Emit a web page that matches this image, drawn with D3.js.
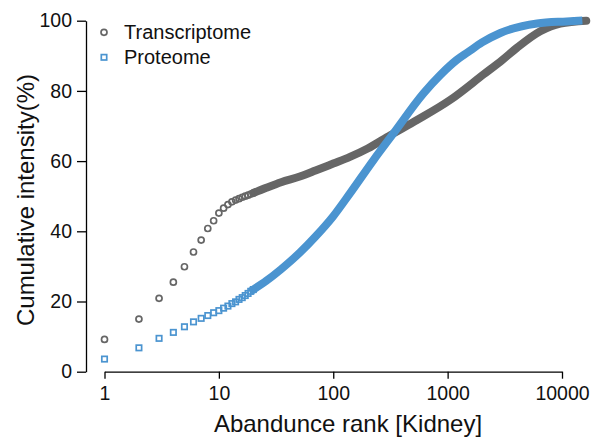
<!DOCTYPE html>
<html>
<head>
<meta charset="utf-8">
<script src="https://cdn.jsdelivr.net/npm/d3@7"></script>
<style>
  html, body { margin: 0; padding: 0; background: #fff; }
  svg { display: block; font-family: "Liberation Sans", Arial, Helvetica, sans-serif; }
</style>
</head>
<body>
<svg id="chart" width="594" height="438"></svg>
<script>
// Cumulative intensity (%) by abundance rank, kidney.
// Top-ranked entries are shown as individual markers.
const transcriptomeTopRanks = [1, 2, 3, 4, 5, 6, 7, 8, 9, 10, 11, 12, 13, 14, 15, 16, 17, 18, 19, 20];
const transcriptomeTopValues = [9.2, 15.0, 20.9, 25.5, 29.9, 34.1, 37.5, 40.8, 43.0, 45.2,
                                46.6, 47.6, 48.4, 48.9, 49.3, 49.7, 50.0, 50.3, 50.6, 50.9];
const proteomeTopRanks = [1, 2, 3, 4, 5, 6, 7, 8, 9, 10, 11, 12, 13, 14, 15, 16, 17, 18, 19, 20];
const proteomeTopValues = [3.6, 6.8, 9.5, 11.2, 12.8, 14.2, 15.2, 16.0, 16.8, 17.4,
                           18.1, 18.7, 19.4, 19.9, 20.6, 21.1, 21.7, 22.3, 22.9, 23.4];

// Remaining ranks are so dense that their markers merge into a band.
const transcriptomeTailRanks = [20, 26, 35, 51, 70, 100, 140, 200, 316, 540, 1050, 2060, 3000, 4040, 6460, 9660, 16300];
const transcriptomeTailValues = [50.9, 52.4, 54.0, 55.6, 57.3, 59.3, 61.2, 63.6, 67.4, 71.7, 77.4, 84.7, 88.8, 92.3, 97.0, 99.2, 100];
const proteomeTailRanks = [20, 26, 35, 51, 70, 100, 140, 225, 336, 615, 861, 1200, 1500, 2000, 2890, 6060, 11000, 13900];
const proteomeTailValues = [23.4, 25.9, 29.2, 33.9, 38.5, 44.3, 50.8, 60.3, 67.9, 79.3, 84.5, 88.8, 91.0, 93.8, 96.5, 99.2, 99.8, 100];

const xTicks = [1, 10, 100, 1000, 10000];
const yTicks = [0, 20, 40, 60, 80, 100];
const legendLabels = ["Transcriptome", "Proteome"];

const grey = "#666666";
const blue = "#4b94d0";

const svg = d3.select("#chart");

const x = d3.scaleLog().domain([1, 10000]).range([104.5, 562]);
const y = d3.scaleLinear().domain([0, 100]).range([371.7, 20.7]);

// Axes
const yAxis = d3.axisLeft(y).tickValues(yTicks).tickSize(9).tickSizeOuter(0).tickPadding(5);
const xAxis = d3.axisBottom(x).tickValues(xTicks).tickFormat(d3.format("d"))
  .tickSize(7).tickSizeOuter(0).tickPadding(7.5);

const gy = svg.append("g").attr("transform", "translate(86,0)").call(yAxis);
const gx = svg.append("g").attr("transform", `translate(0,${y(0)})`).call(xAxis);

[gx, gy].forEach(g => {
  g.selectAll("path.domain").attr("stroke", "#000").attr("stroke-width", 1.3);
  g.selectAll(".tick line").attr("stroke", "#000").attr("stroke-width", 1.3);
  g.selectAll(".tick text").attr("fill", "#111").style("font-size", "19.5px")
    .style("font-family", '"Liberation Sans", Arial, Helvetica, sans-serif');
});

// Axis titles
svg.append("text")
  .attr("x", 348).attr("y", 432.3)
  .attr("text-anchor", "middle")
  .attr("fill", "#111")
  .style("font-size", "24px")
  .text("Abandunce rank [Kidney]");

svg.append("text")
  .attr("transform", "translate(34,200) rotate(-90)")
  .attr("text-anchor", "middle")
  .attr("fill", "#111")
  .style("font-size", "24px")
  .text("Cumulative intensity(%)");

const line = d3.line()
  .x(d => x(d[0]))
  .y(d => y(d[1]))
  .curve(d3.curveMonotoneX);

const pairs = (ranks, values) => ranks.map((r, i) => [r, values[i]]);

const ringR = 3.0, ringW = 1.7, sq = 5.4;

// Transcriptome (grey circles)
svg.append("path")
  .datum(pairs(transcriptomeTailRanks, transcriptomeTailValues))
  .attr("d", line)
  .attr("fill", "none")
  .attr("stroke", grey)
  .attr("stroke-width", 8)
  .attr("stroke-linecap", "round");

svg.append("g").selectAll("circle")
  .data(pairs(transcriptomeTopRanks, transcriptomeTopValues))
  .join("circle")
  .attr("cx", d => x(d[0]))
  .attr("cy", d => y(d[1]))
  .attr("r", ringR)
  .attr("fill", "none")
  .attr("stroke", grey)
  .attr("stroke-width", ringW);

// Proteome (blue squares)
svg.append("path")
  .datum(pairs(proteomeTailRanks, proteomeTailValues))
  .attr("d", line)
  .attr("fill", "none")
  .attr("stroke", blue)
  .attr("stroke-width", 8)
  .attr("stroke-linecap", "square");

svg.append("g").selectAll("rect")
  .data(pairs(proteomeTopRanks, proteomeTopValues))
  .join("rect")
  .attr("x", d => x(d[0]) - sq / 2)
  .attr("y", d => y(d[1]) - sq / 2)
  .attr("width", sq)
  .attr("height", sq)
  .attr("fill", "none")
  .attr("stroke", blue)
  .attr("stroke-width", ringW);

// Legend
const legend = svg.append("g");
legend.append("circle")
  .attr("cx", 104).attr("cy", 32.3).attr("r", ringR)
  .attr("fill", "none").attr("stroke", grey).attr("stroke-width", ringW);
legend.append("rect")
  .attr("x", 104 - sq / 2).attr("y", 57.3 - sq / 2).attr("width", sq).attr("height", sq)
  .attr("fill", "none").attr("stroke", blue).attr("stroke-width", ringW);
legend.selectAll("text")
  .data(legendLabels)
  .join("text")
  .attr("x", 124)
  .attr("y", (d, i) => 39.3 + i * 25)
  .attr("fill", "#111")
  .style("font-size", "20px")
  .text(d => d);
</script>
</body>
</html>
